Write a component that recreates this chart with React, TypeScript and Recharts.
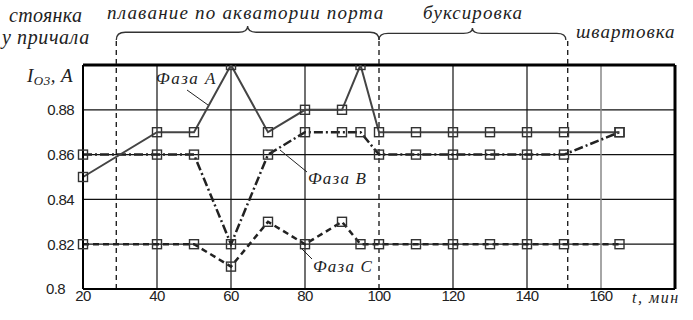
import React from 'react';
import {
  LineChart,
  Line,
  XAxis,
  YAxis,
  CartesianGrid,
  ReferenceLine,
  ReferenceArea,
  Customized,
} from 'recharts';

const times = [20, 40, 50, 60, 70, 80, 90, 95, 100, 110, 120, 130, 140, 150, 165];
const phaseA = [0.85, 0.87, 0.87, 0.9, 0.87, 0.88, 0.88, 0.9, 0.87, 0.87, 0.87, 0.87, 0.87, 0.87, 0.87];
const phaseB = [0.86, 0.86, 0.86, 0.82, 0.86, 0.87, 0.87, 0.87, 0.86, 0.86, 0.86, 0.86, 0.86, 0.86, 0.87];
const phaseC = [0.82, 0.82, 0.82, 0.81, 0.83, 0.82, 0.83, 0.82, 0.82, 0.82, 0.82, 0.82, 0.82, 0.82, 0.82];

const xTicks = [20, 40, 60, 80, 100, 120, 140, 160];
const yTicks = [0.8, 0.82, 0.84, 0.86, 0.88];
const gridX = [40, 60, 80, 120, 140];
const stageBounds = [29, 100, 151];

const data = times.map((t, i) => ({ t, a: phaseA[i], b: phaseB[i], c: phaseC[i] }));

const serif = '"Liberation Serif", "DejaVu Serif", serif';
const sans = '"Liberation Sans", Arial, sans-serif';

const Square = (props: any) => {
  const { cx, cy, index } = props;
  if (cx == null || cy == null) return null;
  return (
    <rect key={index} x={cx - 4.5} y={cy - 4.5} width={9} height={9} fill="none" stroke="#333" strokeWidth={1.4} />
  );
};

const Brace = (props: any) => {
  const { x, y, width, height } = props;
  const yb = y + height;
  const ym = y + height * 0.45;
  const xc = x + width / 2;
  const x2 = x + width;
  const d = `M${x},${yb} Q${x},${ym} ${x + 9},${ym} L${xc - 9},${ym} Q${xc},${ym} ${xc},${y} Q${xc},${ym} ${xc + 9},${ym} L${x2 - 9},${ym} Q${x2},${ym} ${x2},${yb}`;
  return <path d={d} fill="none" stroke="#333" strokeWidth={1.3} />;
};

const YTick = (props: any) => {
  const { x, y, payload } = props;
  const shift = payload.value === 0.8 ? -9 : 0;
  return (
    <text x={x + shift} y={y} dy="0.36em" textAnchor="end" fontFamily={sans} fontSize={15} fill="#222" letterSpacing={-0.6}>
      {String(payload.value)}
    </text>
  );
};

const Labels = () => (
  <g fontFamily={serif} fontStyle="italic" fill="#222">
    <text x={9} y={22} fontSize={20} letterSpacing={0.3}>стоянка</text>
    <text x={2} y={44} fontSize={20} letterSpacing={0.6}>у причала</text>
    <text x={107} y={19} fontSize={19} letterSpacing={1.2}>плавание по акватории порта</text>
    <text x={423} y={19} fontSize={19} letterSpacing={1.1}>буксировка</text>
    <text x={576} y={38} fontSize={19} letterSpacing={1}>швартовка</text>
    <text x={27} y={82} fontSize={19} letterSpacing={0.5}>
      I<tspan fontSize={13} dy={3}>O3</tspan>
      <tspan dy={-3}>, A</tspan>
    </text>
    <text x={156} y={84} fontSize={17} letterSpacing={1.5}>Фаза A</text>
    <text x={308} y={184} fontSize={17} letterSpacing={1.2}>Фаза B</text>
    <text x={313} y={272} fontSize={17} letterSpacing={1.2}>Фаза C</text>
    <text x={632} y={303} fontSize={16} letterSpacing={1.5}>t, мин</text>
    <g stroke="#222" strokeWidth={1}>
      <line x1={187} y1={90} x2={208} y2={105} />
      <line x1={280} y1={150} x2={307} y2={172} />
      <line x1={300} y1={247} x2={312} y2={259} />
    </g>
  </g>
);

export default function App() {
  return (
    <div style={{ position: 'absolute', left: 0, top: 0, background: '#fff' }}>
      <LineChart width={693} height={320} data={data} margin={{ top: 65, right: 18, left: 0, bottom: 1 }}>
        <CartesianGrid vertical={false} stroke="#111" strokeWidth={1.2} />
        <XAxis
          dataKey="t"
          type="number"
          domain={[20, 180]}
          ticks={xTicks}
          height={30}
          tickSize={0}
          tickMargin={1}
          axisLine={{ stroke: '#000', strokeWidth: 2 }}
          tick={{ fontFamily: sans, fontSize: 15, fill: '#222', letterSpacing: -0.6 }}
          interval={0}
        />
        <YAxis
          type="number"
          domain={[0.8, 0.9]}
          ticks={yTicks}
          width={83}
          tickSize={0}
          tickMargin={9}
          axisLine={{ stroke: '#000', strokeWidth: 2 }}
          tick={<YTick />}
          interval={0}
          allowDataOverflow
        />
        {gridX.map((x) => (
          <ReferenceLine key={x} x={x} stroke="#111" strokeWidth={1.2} />
        ))}
        <ReferenceLine x={160} stroke="#888" strokeWidth={1.5} />
        <ReferenceLine y={0.9} stroke="#000" strokeWidth={3} />
        <ReferenceLine x={180} stroke="#000" strokeWidth={3} />
        {stageBounds.map((x) => (
          <ReferenceLine
            key={`s${x}`}
            segment={[{ x, y: 0.8 }, { x, y: 0.9112 }]}
            ifOverflow="visible"
            stroke="#222"
            strokeWidth={1.4}
            strokeDasharray="5 4"
          />
        ))}
        <ReferenceArea x1={29} x2={100} y1={0.9112} y2={0.9174} ifOverflow="visible" shape={<Brace />} />
        <ReferenceArea x1={100} x2={150.5} y1={0.9112} y2={0.9165} ifOverflow="visible" shape={<Brace />} />
        <Line
          dataKey="c"
          stroke="#222"
          strokeWidth={2.5}
          strokeDasharray="6 4"
          dot={<Square />}
          activeDot={false}
          isAnimationActive={false}
        />
        <Line
          dataKey="b"
          stroke="#222"
          strokeWidth={2.5}
          strokeDasharray="9 3 2 3"
          dot={<Square />}
          activeDot={false}
          isAnimationActive={false}
        />
        <Line
          dataKey="a"
          stroke="#444"
          strokeWidth={2}
          dot={<Square />}
          activeDot={false}
          isAnimationActive={false}
        />
        <Customized component={<Labels />} />
      </LineChart>
    </div>
  );
}
